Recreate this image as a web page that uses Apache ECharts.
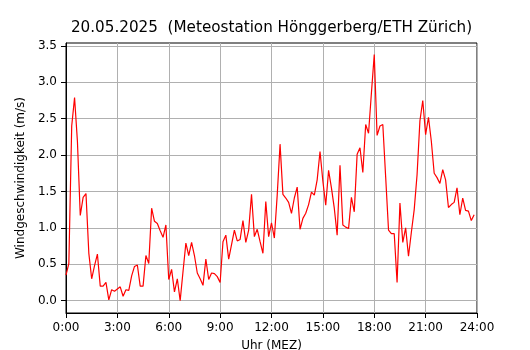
<!DOCTYPE html>
<html>

<head>
	<meta charset="utf-8">
	<script src="https://cdn.jsdelivr.net/npm/echarts@6/dist/echarts.min.js"></script>
	<style>
		body { margin: 0; background: #fff; }
	</style>
</head>

<body>
	<div id="main" style="width: 530px; height: 350px"></div>
	<script type="text/javascript">
		// Windgeschwindigkeit (m/s), 10-Minuten-Werte ab 0:00
		var stepMinutes = 10;
		var windSpeed = [
			0.35, 0.51, 2.40, 2.79, 2.19, 1.17, 1.42, 1.47, 0.65, 0.30, 0.48, 0.64,
			0.20, 0.20, 0.25, 0.01, 0.15, 0.13, 0.16, 0.19, 0.06, 0.15, 0.14, 0.34,
			0.47, 0.49, 0.20, 0.20, 0.62, 0.51, 1.27, 1.09, 1.06, 0.96, 0.87, 1.04,
			0.29, 0.43, 0.12, 0.30, 0.00, 0.40, 0.79, 0.62, 0.80, 0.62, 0.38, 0.30,
			0.21, 0.57, 0.29, 0.38, 0.37, 0.33, 0.25, 0.81, 0.90, 0.57, 0.77, 0.97,
			0.82, 0.84, 1.10, 0.80, 0.97, 1.46, 0.88, 0.98, 0.81, 0.65, 1.36, 0.88,
			1.07, 0.86, 1.45, 2.15, 1.46, 1.41, 1.35, 1.20, 1.41, 1.56, 0.98, 1.13,
			1.20, 1.32, 1.49, 1.45, 1.66, 2.05, 1.64, 1.31, 1.79, 1.55, 1.27, 0.90,
			1.86, 1.04, 1.01, 0.99, 1.42, 1.22, 2.01, 2.10, 1.76, 2.42, 2.30, 2.85,
			3.38, 2.27, 2.40, 2.42, 1.70, 0.97, 0.92, 0.92, 0.25, 1.34, 0.80, 1.00,
			0.61, 0.94, 1.25, 1.73, 2.47, 2.75, 2.28, 2.52, 2.19, 1.75, 1.69, 1.61,
			1.80, 1.66, 1.28, 1.32, 1.35, 1.55, 1.18, 1.41, 1.24, 1.23, 1.10, 1.18
		];
		var yTicks = [0, 0.5, 1, 1.5, 2, 2.5, 3, 3.5];

		var font = 'DejaVu Sans';
		var seriesData = windSpeed.map(function (v, i) { return [i * stepMinutes, v]; });

		var myChart = echarts.init(document.getElementById('main'));
		var option = {
			backgroundColor: '#fff',
			animation: false,
			title: {
				text: '20.05.2025  (Meteostation Hönggerberg/ETH Zürich)',
				left: 271.5, top: 21, padding: 0,
				textAlign: 'center',
				textStyle: { fontFamily: font, fontSize: 15.2, fontWeight: 'normal', color: '#000' }
			},
			grid: {
				left: 66, right: 53, top: 43, bottom: 37,
				outerBoundsMode: 'none',
				show: true, borderColor: '#000', borderWidth: 1
			},
			xAxis: {
				type: 'value',
				min: 0, max: 1440, interval: 180,
				name: 'Uhr (MEZ)', nameLocation: 'middle', nameGap: 27,
				nameTextStyle: { fontFamily: font, fontSize: 12, color: '#000' },
				axisLine: { show: true, onZero: false, lineStyle: { color: '#000', width: 1 } },
				axisTick: { show: true, length: 5, lineStyle: { color: '#000' } },
				axisLabel: {
					fontFamily: font, fontSize: 12, color: '#000', margin: 9,
					formatter: function (v) { return (v / 60) + ':00'; }
				},
				splitLine: { show: true, lineStyle: { color: '#b0b0b0', width: 1 } }
			},
			yAxis: {
				type: 'value',
				min: -0.17, max: 3.54,
				name: 'Windgeschwindigkeit (m/s)', nameLocation: 'middle', nameGap: 35,
				nameTextStyle: { fontFamily: font, fontSize: 12, color: '#000' },
				axisLine: { show: true, onZero: false, lineStyle: { color: '#000', width: 1 } },
				axisTick: { show: true, length: 5, customValues: yTicks, lineStyle: { color: '#000' } },
				axisLabel: {
					fontFamily: font, fontSize: 12, color: '#000', margin: 9,
					customValues: yTicks,
					formatter: function (v) { return v.toFixed(1); }
				},
				splitLine: { show: true, lineStyle: { color: '#b0b0b0', width: 1 } }
			},
			series: [{
				name: 'Wind',
				type: 'line',
				data: seriesData,
				showSymbol: false,
				lineStyle: { color: '#ff0000', width: 1.2 },
				itemStyle: { color: '#ff0000' }
			}]
		};
		myChart.setOption(option);
	</script>
</body>

</html>
